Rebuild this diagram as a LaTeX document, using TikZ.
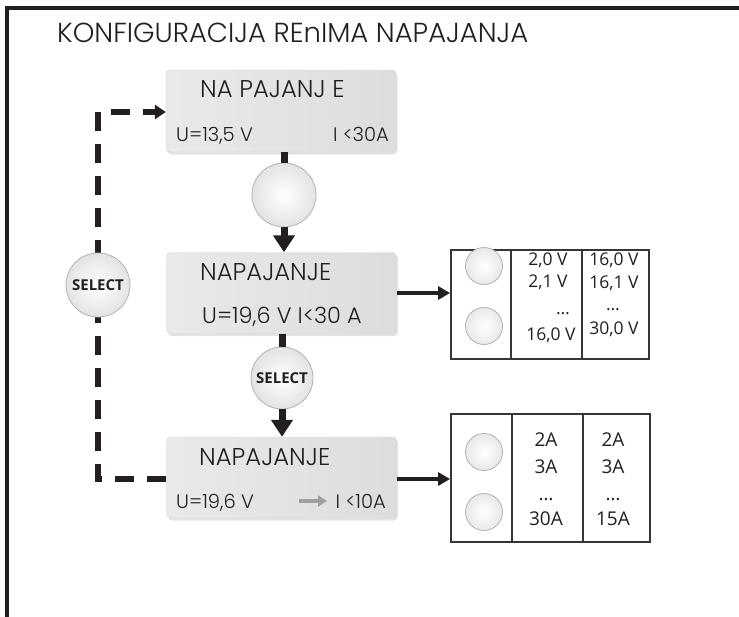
\documentclass[tikz,border=0pt]{standalone}
\usepackage{fontspec}
\setmainfont{Poppins}[UprightFont={* Light}]
\newfontfamily\osans{Open Sans}
\usetikzlibrary{arrows.meta,shadows,calc}
\definecolor{ink}{HTML}{231F20}
\tikzset{
  lcdbox/.style={rounded corners=4pt, minimum width=230pt, minimum height=82pt, inner sep=0pt,
    left color=gray!17, right color=gray!27, draw=gray!35, line width=0.4pt,
    drop shadow={opacity=0.22, shadow xshift=1.5pt, shadow yshift=-2.5pt}},
  btn/.style={circle, inner sep=0pt, inner color=white, outer color=gray!22, draw=gray!60, line width=0.8pt},
  cell/.style={draw=ink!90, line width=1.8pt, inner sep=0pt},
  lbl/.style={text=ink, inner sep=0pt, anchor=base west},
  big/.style={font=\fontsize{24.3}{24.3}\selectfont},
  small/.style={font=\fontsize{19.5}{19.5}\selectfont},
  tb/.style={text=ink, inner sep=0pt, font=\osans\fontsize{17.5}{17.5}\selectfont},
  tbb/.style={text=ink, inner sep=0pt, font=\osans\fontsize{19}{19}\selectfont},
  stub/.style={line width=7pt, draw=ink},
  flow/.style={line width=7pt, draw=ink, -{Triangle[width=21pt,length=17pt]}},
  side/.style={line width=4pt, draw=ink, -{Triangle[width=13pt,length=12pt]}},
  loop/.style={line width=6pt, draw=ink, dash pattern=on 19pt off 13pt},
  seltext/.style={font=\osans\bfseries\fontsize{15}{15}\selectfont, text=ink},
}
\begin{document}
\begin{tikzpicture}[x=1pt,y=-1pt]
\useasboundingbox (0,0) rectangle (739,616);
% frame
\draw[line width=4pt, draw=ink] (7,640) -- (7,8) -- (760,8);
\node[lbl, font=\fontsize{27.5}{27.5}\selectfont] (title) at (57,42) {KONFIGURACIJA REnIMA NAPAJANJA};

% boxes
\node[lcdbox] (box1) at (281,111) {};
\node[lcdbox, minimum height=81pt] (box2) at (281.5,293) {};
\node[lcdbox, minimum height=81pt] (box3) at (281.5,477.5) {};

\node[lbl, big] (b1t) at (200,97) {NA PAJANJ E};
\node[lbl, small] (b1l) at (176,141) {U=13,5 V};
\node[lbl, small, anchor=base east] (b1r) at (389,141) {I <30A};

\node[lbl, big] (b2t) at (200,280) {NAPAJANJE};
\node[lbl, font=\fontsize{22.4}{22.4}\selectfont] (b2b) at (202,323) {U=19,6 V I<30 A};

\node[lbl, big] (b3t) at (199,465) {NAPAJANJE};
\node[lbl, small] (b3l) at (176,508) {U=19,6 V};
\node[lbl, small, anchor=base east] (b3r) at (386,508) {I <10A};
\coordinate (ga) at (299,501);
\coordinate (gb) at (327,501);
\draw[line width=4pt, draw=gray!75, -{Triangle[width=11pt,length=9pt]}] (ga) -- (gb);

% buttons
\node[btn, minimum size=64pt] (c1) at (284,195) {};
\node[btn, minimum size=62pt, seltext] (c2) at (282,378) {SELECT};

\draw[stub] (box1.south -| c1) -- (c1.north);
\draw[flow] (c1.south) -- (box2.north -| c1);
\draw[stub] (box2.south -| c2) -- (c2.north);
\draw[flow] (c2.south) -- (box3.north -| c2);

% dashed loop
\coordinate (lt) at (98,112);
\coordinate (lb) at (98,479);
\draw[loop] (box3.west |- lb) -- (lb) -- (lt) -- ($(box1.west |- lt)+(-12,0)$);
\draw[line width=6pt, draw=ink, -{Triangle[width=14pt,length=11pt]}] ($(box1.west |- lt)+(-14,0)$) -- (box1.west |- lt);
\node[btn, minimum size=64pt, seltext] (c3) at (98,285) {SELECT};

% table 1
\node[cell, minimum width=60pt, minimum height=109pt] (t1a) at (481,304.5) {};
\node[cell, minimum width=71pt, minimum height=109pt] (t1b) at (546.5,304.5) {};
\node[cell, minimum width=67pt, minimum height=109pt] (t1c) at (615.5,304.5) {};
\node[btn, minimum size=37pt, outer color=gray!18] (t1k1) at (484,266) {};
\node[btn, minimum size=37pt, outer color=gray!18] (t1k2) at (484,326) {};
\node[tb] (t1b1) at (548,260) {2,0 V};
\node[tb] (t1b2) at (548,282) {2,1 V};
\node[tb] (t1b3) at (563,314) {…};
\node[tb] (t1b4) at (551,335) {16,0 V};
\node[tb] (t1c1) at (614,260) {16,0 V};
\node[tb] (t1c2) at (614,283) {16,1 V};
\node[tb] (t1c3) at (613,310) {…};
\node[tb] (t1c4) at (614,329) {30,0 V};
\draw[side] (box2.east) -- (t1a.west |- box2.east);

% table 2
\node[cell, minimum width=61pt, minimum height=128pt] (t2a) at (481.5,478) {};
\node[cell, minimum width=71pt, minimum height=128pt] (t2b) at (547.5,478) {};
\node[cell, minimum width=67pt, minimum height=128pt] (t2c) at (616.5,478) {};
\node[btn, minimum size=37pt, outer color=gray!18] (t2k1) at (484,452) {};
\node[btn, minimum size=37pt, outer color=gray!18] (t2k2) at (484,512) {};
\node[tbb] (t2b1) at (546,440) {2A};
\node[tbb] (t2b2) at (546,467) {3A};
\node[tbb] (t2b3) at (546,500) {…};
\node[tbb] (t2b4) at (546,519) {30A};
\node[tbb] (t2c1) at (613,440) {2A};
\node[tbb] (t2c2) at (613,467) {3A};
\node[tbb] (t2c3) at (613,500) {…};
\node[tbb] (t2c4) at (613,519) {15A};
\draw[side] (box3.east |- lb) -- (t2a.west |- lb);
\end{tikzpicture}
\end{document}
